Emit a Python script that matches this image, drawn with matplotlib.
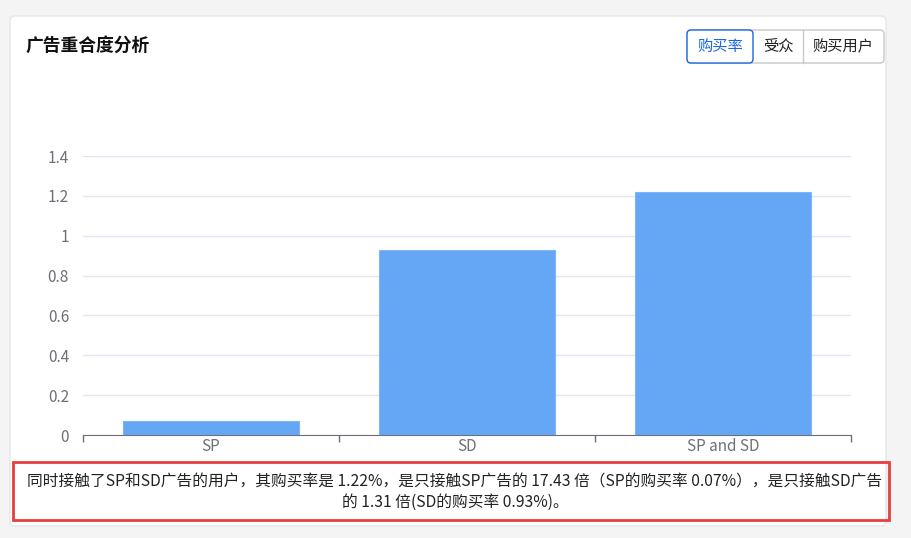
import matplotlib
matplotlib.use('Agg')
import matplotlib.pyplot as plt
from matplotlib.patches import FancyBboxPatch, Rectangle

plt.rcParams['font.family'] = ['Noto Sans CJK SC', 'DejaVu Sans']

# data
categories = ['SP', 'SD', 'SP and SD']
buy_rate = [0.07, 0.93, 1.22]
y_ticks = [0, 0.2, 0.4, 0.6, 0.8, 1.0, 1.2, 1.4]
y_tick_labels = ['0', '0.2', '0.4', '0.6', '0.8', '1', '1.2', '1.4']
title = '广告重合度分析'
buttons = ['购买率', '受众', '购买用户']
note_lines = ['同时接触了SP和SD广告的用户，其购买率是 1.22%，是只接触SP广告的 17.43 倍（SP的购买率 0.07%），是只接触SD广告',
              '的 1.31 倍(SD的购买率 0.93%)。']

W, H = 912, 538
fig = plt.figure(figsize=(W / 100, H / 100), dpi=100)
fig.patch.set_facecolor('#f4f4f4')

# background layer in pixel coords
bg = fig.add_axes([0, 0, 1, 1])
bg.set_xlim(0, W)
bg.set_ylim(H, 0)
bg.axis('off')

card = FancyBboxPatch((10, 16), 876, 510, boxstyle='round,pad=0,rounding_size=5',
                      facecolor='white', edgecolor='#e6e6e6', linewidth=1)
bg.add_patch(card)
bg.text(26, 46, title, fontsize=12.8, fontweight='bold', color='#111111', va='center', ha='left')

# button group
grp = FancyBboxPatch((687, 30), 197, 33, boxstyle='round,pad=0,rounding_size=4',
                     facecolor='white', edgecolor='#c8c8c8', linewidth=1)
bg.add_patch(grp)
bg.plot([803, 803], [30, 63], color='#c8c8c8', lw=1)
sel = FancyBboxPatch((687, 30), 66, 33, boxstyle='round,pad=0,rounding_size=4',
                     facecolor='white', edgecolor='#1a66e0', linewidth=1)
bg.add_patch(sel)
btn_x = [720, 778, 843]
for i, b in enumerate(buttons):
    bg.text(btn_x[i], 46.5, b, fontsize=11, color='#1a66e0' if i == 0 else '#222222',
            ha='center', va='center')

# note box
bg.add_patch(Rectangle((13, 462), 876, 58, facecolor='none', edgecolor='#e53e3e', linewidth=2))
bg.text(455, 482, note_lines[0], fontsize=11.3, color='#222222', ha='center', va='center')
bg.text(455, 502, note_lines[1], fontsize=11.3, color='#222222', ha='center', va='center')

# main chart
left, right = 83 / W, 851 / W
bottom, top = (H - 435) / H, (H - 156) / H
ax = fig.add_axes([left, bottom, right - left, top - bottom])
ax.patch.set_alpha(0)
x = list(range(len(categories)))
ax.bar(x, buy_rate, width=0.69, color='#65a6f5', edgecolor='#7fb6f7', linewidth=0.8, zorder=3)
ax.set_xlim(-0.5, len(categories) - 0.5)
ax.set_ylim(0, 1.4)

ax.set_yticks(y_ticks)
ax.set_yticklabels(y_tick_labels)
ax.grid(axis='y', color='#e0e6f1', linewidth=1, zorder=0)
ax.tick_params(axis='y', length=0, pad=10, labelsize=11, labelcolor='#6e7079')

ax.set_xticks([i - 0.5 for i in range(len(categories) + 1)])
ax.set_xticklabels([])
ax.set_xticks(x, minor=True)
ax.set_xticklabels(categories, minor=True)
ax.tick_params(axis='x', which='major', length=5, color='#6e7079', width=1)
ax.tick_params(axis='x', which='minor', length=0, pad=2, labelsize=11, labelcolor='#6e7079')

for s in ['top', 'right', 'left']:
    ax.spines[s].set_visible(False)
ax.spines['bottom'].set_color('#6e7079')

fig.savefig('out.png', dpi=100, facecolor=fig.get_facecolor())
